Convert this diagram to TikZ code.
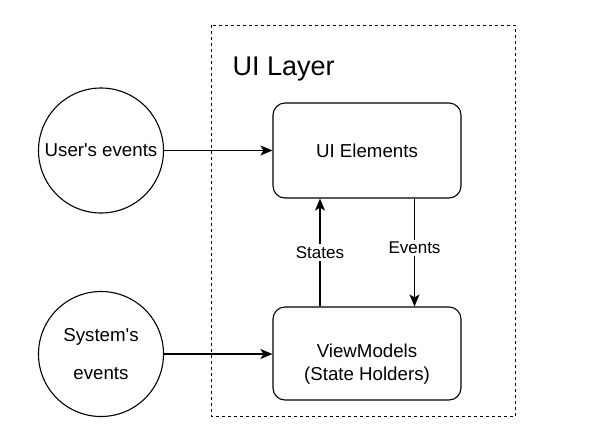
\documentclass[tikz,border=0pt]{standalone}
\usepackage{fontspec}
\setmainfont{Liberation Sans}
\newfontfamily\plainsans{Liberation Sans}
\usetikzlibrary{arrows.meta,calc}
\begin{document}
\begin{tikzpicture}[x=1pt,y=-1pt,
  boxstyle/.style={draw, line width=1.1pt, rounded corners=12pt, minimum width=188pt, inner sep=0pt},
  evcircle/.style={draw, circle, line width=1.1pt, minimum size=125pt, inner sep=0pt, font=\plainsans\fontsize{18.7}{23}\selectfont, align=center},
  conn/.style={line width=1.1pt, -{Stealth[length=12pt,width=10pt,inset=3pt]}},
  lbl/.style={fill=white, inner sep=2pt, font=\plainsans\fontsize{17}{20}\selectfont},
  mainfont/.style={font=\plainsans\fontsize{18.7}{23}\selectfont, align=center}
]
\useasboundingbox (0,0) rectangle (590,432);
\draw[line width=1pt, dash pattern=on 3pt off 3pt] (211,25) rectangle (515.5,416);
\node[anchor=base west, font=\plainsans\fontsize{27}{32}\selectfont] (title) at (229,75) {UI Layer};
\node[boxstyle, minimum height=95pt, mainfont] (ui) at (367,150.5) {UI Elements};
\node[boxstyle, minimum height=93pt] (vm) at (367,353.5) {};
\node[mainfont, inner sep=0pt] (vmtext) at (367,364.5) {ViewModels\\(State Holders)};
\node[evcircle] (user) at (101,150.5) {User's events};
\node[evcircle, font=\plainsans\fontsize{18.7}{38}\selectfont] (sys) at (101,354) {System's\\events};
\coordinate (sx) at (320,0);
\coordinate (ex) at (414.5,0);
\draw[conn] (user) -- (ui);
\draw[conn] (sys.east) -- (vm.west |- sys.east);
\draw[conn] (vm.north -| sx) -- node[lbl] {States} (ui.south -| sx);
\draw[conn] (ui.south -| ex) -- node[lbl, pos=0.46] {Events} (vm.north -| ex);
\end{tikzpicture}
\end{document}
